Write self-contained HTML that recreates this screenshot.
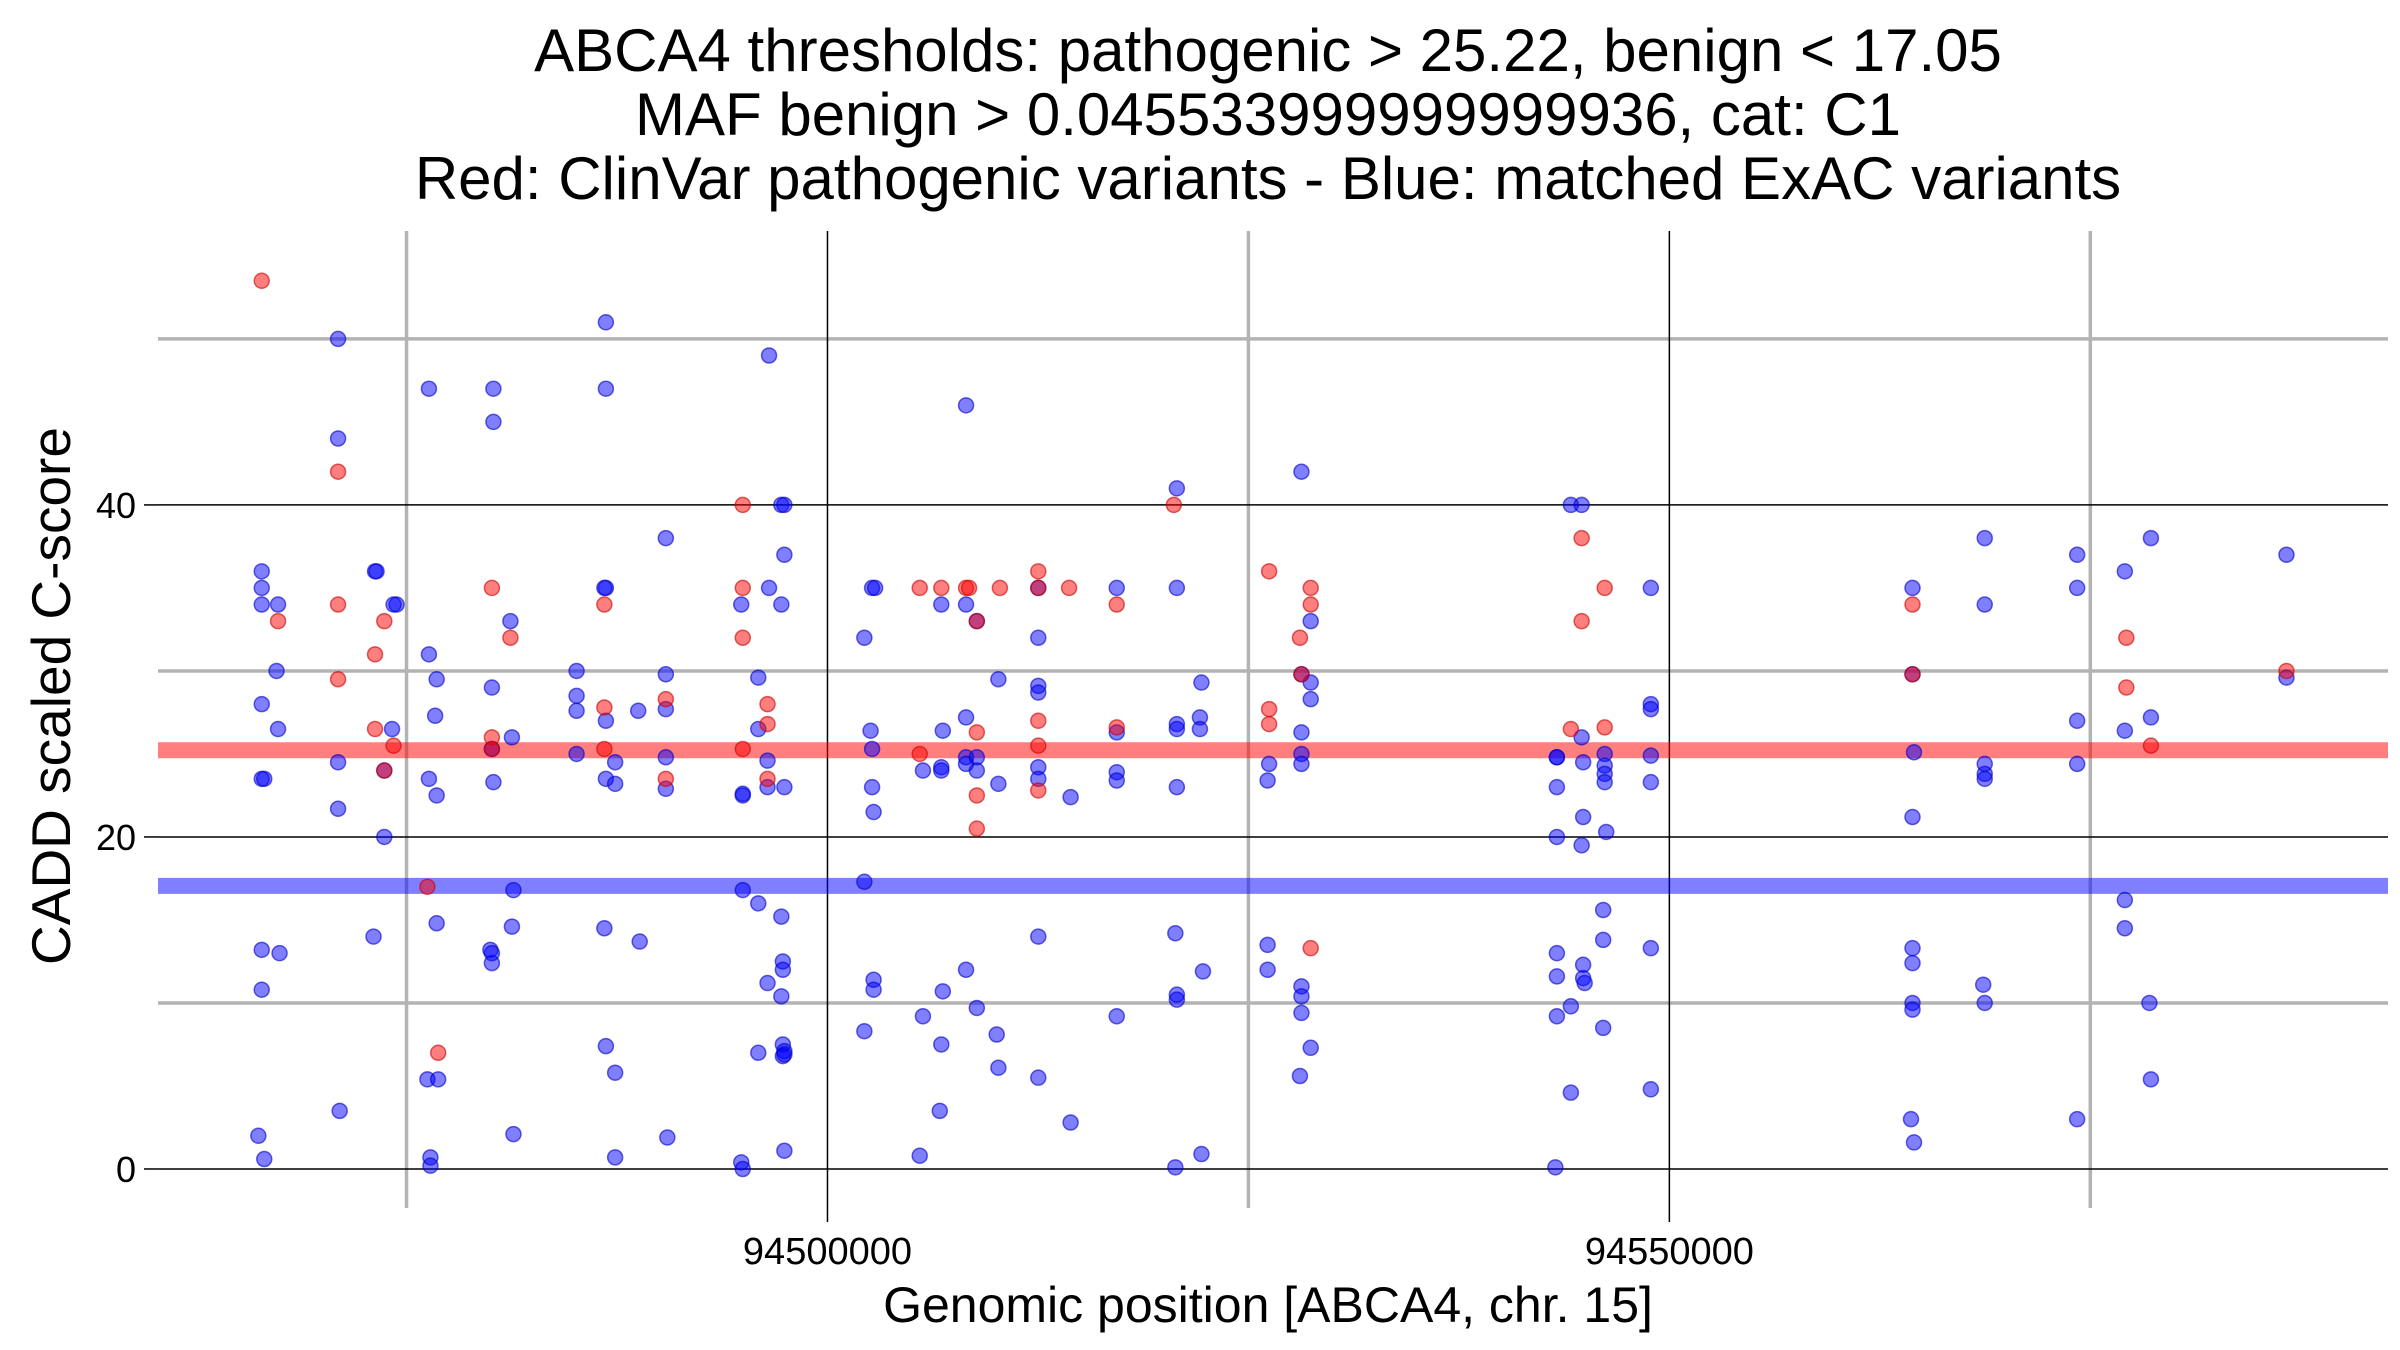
<!DOCTYPE html>
<html><head><meta charset="utf-8">
<style>
html,body{margin:0;padding:0;background:#fff;}
svg{display:block;font-family:"Liberation Sans",Arial,sans-serif;}
</style></head>
<body>
<svg id="chart" width="2400" height="1350" viewBox="0 0 2400 1350" xmlns="http://www.w3.org/2000/svg">
<g font-size="60" text-anchor="middle" fill="#000">
<text x="1268" y="71">ABCA4 thresholds: pathogenic &gt; 25.22, benign &lt; 17.05</text>
<text x="1268" y="135">MAF benign &gt; 0.045533999999999936, cat: C1</text>
<text x="1268" y="199">Red: ClinVar pathogenic variants - Blue: matched ExAC variants</text>
</g>
<g id="grid"></g>
<g id="thresholds"></g>
<g id="points"></g>
<g id="axes"></g>
<text x="1268" y="1322" font-size="50" text-anchor="middle">Genomic position [ABCA4, chr. 15]</text>
<text transform="translate(70,696) rotate(-90)" font-size="55" text-anchor="middle">CADD scaled C-score</text>
</svg>
<script>
const xMajorTicks=[94500000,94550000];
const xMinorTicks=[94475000,94525000,94575000];
const yMajorTicks=[0,20,40];
const yMinorTicks=[10,30,50];
const pathogenicThreshold=25.22;
const benignThreshold=17.05;
const redPos=[94466400,94467370,94470935,94470935,94470935,94473130,94473130,94473680,94473680,94474230,94476240,94476880,94480070,94480070,94480070,94481170,94486750,94486750,94486750,94490400,94490400,94494970,94494970,94494970,94494970,94496440,94496440,94496440,94505480,94505480,94506760,94508230,94508410,94508870,94508870,94508870,94508870,94510240,94512520,94512520,94512520,94512520,94512520,94514350,94517180,94517180,94520570,94526230,94526230,94526230,94528060,94528150,94528700,94528700,94528700,94544150,94544790,94544790,94546160,94546160,94564440,94564440,94577140,94577140,94578600,94586650];
const redScore=[53.5,33,42,34,29.5,31,26.5,33,24,25.5,17,7,35,26,25.3,32,34,27.8,25.3,28.3,23.5,40,35,32,25.3,28,26.8,23.5,25,35,35,35,35,33,26.3,22.5,20.5,35,36,35,27,25.5,22.8,35,34,26.6,40,36,27.7,26.8,32,29.8,35,34,13.3,26.5,38,33,35,26.6,34,29.8,32,29,25.5,30];
const bluePos=[94466400,94466400,94466400,94466400,94466400,94466550,94466400,94466400,94466200,94466550,94467370,94467280,94467370,94467460,
94470935,94470935,94470935,94470935,94471030,
94473130,94473220,94473040,94473680,94473680,94474140,94474410,94474230,
94476330,94476330,94476330,94476790,94476700,94476790,94476790,94476240,94476880,94476420,94476420,
94480160,94480160,94480070,94480070,94480160,94479980,94480070,94480070,94481170,94481260,94481350,94481260,94481350,
94485100,94485100,94485100,94485100,94486840,94486840,94486840,94486750,94486840,94486840,94487390,94487390,94488760,94486750,94488850,94486840,94487390,94487390,
94490400,94490400,94490400,94490400,94490400,94490490,
94494880,94494970,94494970,94494970,94494880,94494970,
94495890,94495890,94495890,94495890,94496530,94496530,94496440,94496440,94496440,94497260,94497440,94497440,94497260,94497440,94497260,94497350,94497350,94497260,94497350,94497440,94497350,94497440,94497440,
94502190,94502190,94502190,94502560,94502650,94502650,94502740,94502740,94502740,
94502650,94502830,94505670,94505670,94505480,94506760,94506850,94506760,94506760,94506850,94506760,94506670,
94508230,94508230,94508230,94508230,94508230,94508230,94508870,94508870,94508870,94508870,94510150,94510150,94510050,94510150,
94512520,94512520,94512520,94512520,94512520,94512520,94512520,94512520,94514440,94514440,
94517180,94517180,94517180,94517180,94517180,
94520750,94520750,94520750,94520750,94520750,94520660,94520750,94520750,94520660,94522210,94522120,94522120,94522300,94522210,
94526230,94526140,94526140,94526140,94528150,94528150,94528150,94528150,94528150,94528150,94528150,94528150,94528060,94528700,94528700,94528700,94528700,
94543320,94543320,94543320,94543320,94543320,94543320,94543320,94543230,94544150,94544790,94544150,94544150,94544790,94544880,94544880,94544790,94544880,94544880,94544970,94546160,94546160,94546160,94546160,94546250,94546070,94546070,94546070,
94548900,94548900,94548900,94548900,94548900,94548900,94548900,
94564440,94564440,94564530,94564440,94564440,94564440,94564440,94564440,94564350,94564530,
94568730,94568730,94568730,94568730,94568730,94568640,94568730,
94574220,94574220,94574220,94574220,94574220,
94577050,94577050,94577050,94577050,94578600,94578600,94578510,94578600,
94586650,94586650];
const blueScore=[35,36,34,28,23.5,23.5,13.2,10.8,2,0.6,34,30,26.5,13,
50,44,24.5,21.7,3.5,
36,36,14,24,20,26.5,34,34,
47,31,23.5,29.5,27.3,22.5,14.8,5.4,5.4,0.7,0.2,
47,45,29,25.3,23.3,13.2,12.4,13,33,26,16.8,14.6,2.1,
30,28.5,27.6,25,51,47,35,35,27,23.5,24.5,23.2,27.6,14.5,13.7,7.4,5.8,0.7,
38,29.8,27.7,24.8,22.9,1.9,
34,22.5,22.6,16.8,0.4,0,
29.6,26.5,16,7,49,35,24.6,23,11.2,40,40,37,34,23,15.2,12.5,12,10.4,7.5,7.1,6.8,6.9,1.1,
32,17.3,8.3,26.4,25.3,23,21.5,11.4,10.8,
35,35,24,9.2,0.8,34,26.4,24.2,24,10.7,7.5,3.5,
46,34,27.2,24.8,24.4,12,24.8,24,9.7,33,29.5,23.2,8.1,6.1,
35,32,29.1,28.7,24.2,23.5,14,5.5,22.4,2.8,
35,26.3,23.9,23.4,9.2,
41,35,26.8,26.5,23,14.2,10.5,10.2,0.1,29.3,27.2,26.5,11.9,0.9,
24.4,23.4,13.5,12,42,29.8,26.3,25,24.4,11,10.4,9.4,5.6,33,29.3,28.3,7.3,
24.8,24.8,23,20,13,11.6,9.2,0.1,40,40,9.8,4.6,26,24.5,21.2,19.5,12.3,11.5,11.2,25,24.3,23.8,23.3,20.3,15.6,13.8,8.5,
35,28,27.7,24.9,23.3,13.3,4.8,
35,29.8,25.1,21.2,13.3,12.4,10,9.6,3,1.6,
38,34,24.4,23.8,23.5,11.1,10,
37,35,27,24.4,3,
36,26.4,16.2,14.5,38,27.2,10,5.4,
37,29.6];

const L=158,R=2388,T=231,B=1208;
const X0=94460240,X1=94592680,Y0=-2.35,Y1=56.5;
function xs(g){return L+(g-X0)/(X1-X0)*(R-L);}
function ys(v){return B-(v-Y0)/(Y1-Y0)*(B-T);}
const NS='http://www.w3.org/2000/svg';
function mk(tag,attrs,parent){const e=document.createElementNS(NS,tag);for(const k in attrs)e.setAttribute(k,attrs[k]);parent.appendChild(e);return e;}
const grid=document.getElementById('grid');
yMinorTicks.forEach(v=>{const e=mk('line',{x1:L,x2:R,y1:ys(v),y2:ys(v),stroke:'#b3b3b3','stroke-width':3.5},grid);

});
xMinorTicks.forEach(g=>{const e=mk('line',{x1:xs(g),x2:xs(g),y1:T,y2:B,stroke:'#b3b3b3','stroke-width':3.5},grid);

});
yMajorTicks.forEach(v=>{const e=mk('line',{x1:L,x2:R,y1:ys(v),y2:ys(v),stroke:'#000','stroke-width':1.5},grid);

});
xMajorTicks.forEach(g=>{const e=mk('line',{x1:xs(g),x2:xs(g),y1:T,y2:B,stroke:'#000','stroke-width':1.5},grid);

});
const th=document.getElementById('thresholds');
let t1=mk('line',{x1:L,x2:R,y1:ys(pathogenicThreshold),y2:ys(pathogenicThreshold),stroke:'rgba(255,0,0,0.5)','stroke-width':16},th);


let t2=mk('line',{x1:L,x2:R,y1:ys(benignThreshold),y2:ys(benignThreshold),stroke:'rgba(0,0,255,0.5)','stroke-width':16},th);


const pts=document.getElementById('points');
for(let i=0;i<bluePos.length;i++){const c=mk('circle',{cx:xs(bluePos[i]),cy:ys(blueScore[i]),r:7.5,fill:'rgba(0,0,255,0.5)',stroke:'rgba(0,0,200,0.6)','stroke-width':1.5},pts);

}
for(let i=0;i<redPos.length;i++){const c=mk('circle',{cx:xs(redPos[i]),cy:ys(redScore[i]),r:7.5,fill:'rgba(255,0,0,0.5)',stroke:'rgba(200,0,0,0.6)','stroke-width':1.5},pts);

}
const ax=document.getElementById('axes');
yMajorTicks.forEach(v=>{const t=mk('line',{x1:L-14,x2:L,y1:ys(v),y2:ys(v),stroke:'#000','stroke-width':1.5},ax);


const l=mk('text',{x:L-22,y:ys(v)+13,'font-size':36,'text-anchor':'end'},ax);l.textContent=String(v);

});
xMajorTicks.forEach(g=>{const t=mk('line',{x1:xs(g),x2:xs(g),y1:B,y2:B+14,stroke:'#000','stroke-width':1.5},ax);


const l=mk('text',{x:xs(g),y:B+56,'font-size':38,'text-anchor':'middle'},ax);l.textContent=String(g);

});
</script>
</body></html>
